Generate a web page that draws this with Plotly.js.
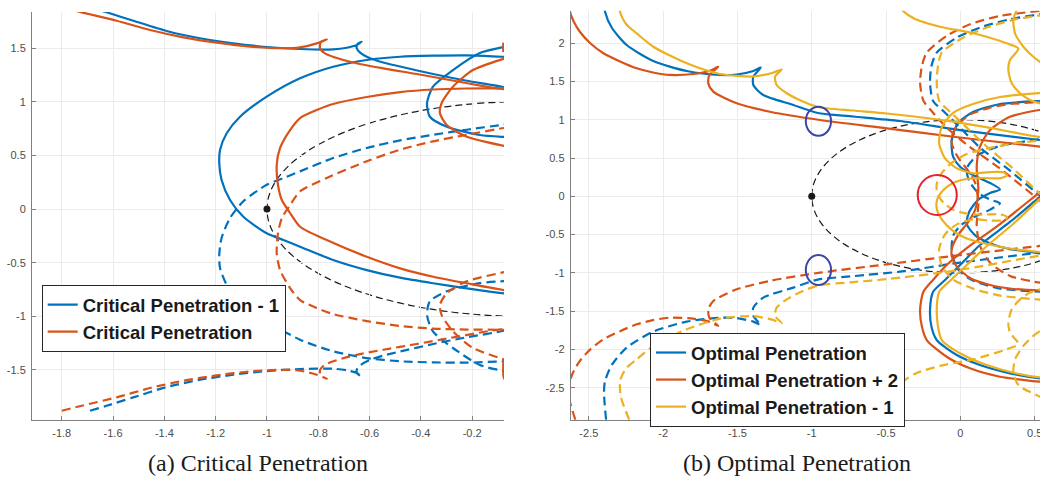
<!DOCTYPE html>
<html>
<head>
<meta charset="utf-8">
<script src="https://cdn.plot.ly/plotly-3.0.1.min.js"></script>
<style>html,body{margin:0;padding:0;background:#fff;}#chart{width:1040px;height:479px;}</style>
</head>
<body>
<div id="chart"></div>
<script>
// ---------- (a) Critical Penetration : positive-frequency branches (solid) ----------
// "Critical Penetration - 1" (blue)
const critM1_B1x = [-1.69,-1.625,-1.521,-1.391,-1.261,-1.131,-1.001,-0.871,-0.742,-0.689,-0.650,-0.631,-0.648,-0.650,-0.637,-0.598,-0.547,-0.481,-0.352,-0.221,-0.076,-0.05];
const critM1_B1y = [1.88,1.833,1.755,1.659,1.591,1.544,1.510,1.491,1.488,1.503,1.528,1.559,1.535,1.498,1.457,1.405,1.366,1.328,1.258,1.195,1.134,1.11];
const critM1_B2x = [-0.05,-0.076,-0.221,-0.352,-0.481,-0.611,-0.742,-0.871,-1.001,-1.105,-1.157,-1.183,-1.186,-1.177,-1.144,-1.092,-1.001,-0.936,-0.871,-0.742,-0.611,-0.481,-0.352,-0.221,-0.076,-0.05];
const critM1_B2y = [1.418,1.419,1.432,1.429,1.419,1.389,1.326,1.218,1.047,0.860,0.706,0.550,0.426,0.270,0.084,-0.072,-0.226,-0.289,-0.351,-0.475,-0.569,-0.640,-0.692,-0.739,-0.786,-0.79];
const critM1_B3x = [-0.05,-0.072,-0.170,-0.275,-0.353,-0.376,-0.365,-0.299,-0.170,-0.072,-0.05];
const critM1_B3y = [1.53,1.513,1.454,1.295,1.140,0.988,0.860,0.767,0.690,0.671,0.668];
// "Critical Penetration" (red)
const crit_R1x = [-1.80,-1.722,-1.586,-1.456,-1.326,-1.196,-1.066,-0.936,-0.871,-0.806,-0.767,-0.791,-0.793,-0.774,-0.676,-0.547,-0.416,-0.287,-0.157,-0.076,-0.05];
const crit_R1y = [1.88,1.833,1.755,1.668,1.600,1.550,1.513,1.498,1.507,1.544,1.582,1.550,1.498,1.451,1.373,1.311,1.258,1.202,1.146,1.116,1.107];
const crit_R2x = [-0.05,-0.072,-0.221,-0.353,-0.481,-0.611,-0.742,-0.806,-0.871,-0.910,-0.949,-0.962,-0.957,-0.942,-0.910,-0.871,-0.767,-0.611,-0.481,-0.352,-0.221,-0.076,-0.05];
const crit_R2y = [1.125,1.125,1.123,1.114,1.090,1.044,0.979,0.923,0.848,0.736,0.569,0.410,0.224,0.084,-0.037,-0.165,-0.289,-0.445,-0.553,-0.631,-0.692,-0.755,-0.76];
const crit_R3x = [-0.05,-0.072,-0.197,-0.275,-0.319,-0.326,-0.299,-0.221,-0.072,-0.05];
const crit_R3y = [1.42,1.404,1.295,1.140,0.988,0.895,0.783,0.674,0.587,0.58];
const crit_R4x = [-0.05,-0.072,-0.078,-0.079,-0.078,-0.072,-0.05];
const crit_R4y = [-1.385,-1.39,-1.42,-1.50,-1.56,-1.59,-1.60];

// ---------- (b) Optimal Penetration ----------
// "Optimal Penetration" (blue)
const opt_B1x = [-2.384,-2.398,-2.391,-2.344,-2.245,-2.066,-1.841,-1.617,-1.505,-1.393,-1.343,-1.393,-1.393,-1.326,-1.124,-0.960,-0.720,-0.406,-0.002,0.536,0.56];
const opt_B1y = [2.915,2.563,2.410,2.197,1.975,1.766,1.636,1.584,1.590,1.636,1.681,1.561,1.453,1.322,1.192,1.087,1.042,0.983,0.865,0.735,0.731];
const opt_B2x = [0.56,0.536,0.267,0.085,-0.015,-0.058,-0.049,-0.002,0.085,0.200,0.267,0.200,0.119,0.059,0.043,0.110,0.267,0.536,0.56];
const opt_B2y = [1.246,1.244,1.205,1.100,0.957,0.735,0.517,0.386,0.278,0.174,0.091,0.043,-0.048,-0.205,-0.362,-0.527,-0.658,-0.744,-0.748];
const opt_B3x = [0.56,0.536,0.334,0.132,-0.002,-0.103,-0.184,-0.204,-0.194,-0.159,-0.024,0.132,0.334,0.536,0.56];
const opt_B3y = [0.02,-0.009,-0.335,-0.636,-0.897,-1.092,-1.249,-1.484,-1.706,-1.876,-2.072,-2.203,-2.311,-2.376,-2.38];
// "Optimal Penetration + 2" (red)
const optP2_R1x = [-2.591,-2.633,-2.630,-2.600,-2.559,-2.492,-2.402,-2.290,-2.178,-2.068,-1.954,-1.797,-1.685,-1.629,-1.689,-1.696,-1.662,-1.505,-1.281,-0.944,-0.495,-0.047,0.536,0.56];
const optP2_R1y = [2.915,2.628,2.432,2.275,2.145,2.001,1.867,1.760,1.671,1.616,1.584,1.597,1.640,1.692,1.584,1.475,1.366,1.214,1.104,0.996,0.888,0.778,0.648,0.644];
const optP2_R2x = [0.56,0.536,0.334,0.200,0.132,0.110,0.121,0.099,0.052,-0.015,-0.056,-0.058,-0.022,0.065,0.200,0.334,0.536,0.56];
const optP2_R2y = [1.125,1.127,1.039,0.866,0.648,0.386,0.082,-0.179,-0.336,-0.506,-0.675,-0.779,-0.923,-1.066,-1.158,-1.204,-1.230,-1.231];
const optP2_R3x = [0.56,0.536,0.267,0.043,-0.092,-0.184,-0.249,-0.271,-0.258,-0.226,-0.092,0.065,0.267,0.536,0.56];
const optP2_R3y = [0.09,0.056,-0.362,-0.675,-0.897,-1.092,-1.249,-1.484,-1.706,-1.876,-2.094,-2.245,-2.355,-2.420,-2.424];
// "Optimal Penetration - 1" (yellow)
const optM1_Y1x = [-2.228,-2.283,-2.290,-2.250,-2.178,-2.066,-1.841,-1.617,-1.393,-1.267,-1.202,-1.247,-1.236,-1.168,-1.082,-0.960,-0.720,-0.495,-0.047,0.536,0.56];
const optM1_Y1y = [2.915,2.628,2.410,2.249,2.128,1.953,1.736,1.597,1.564,1.610,1.655,1.561,1.453,1.345,1.256,1.166,1.120,1.081,0.974,0.774,0.770];
const optM1_Y2x = [0.56,0.536,0.267,0.085,-0.049,-0.125,-0.143,-0.103,-0.024,0.085,0.200,0.294,0.314,0.267,0.153,0.043,-0.049,-0.114,-0.157,-0.157,-0.123,-0.056,0.043,0.178,0.355,0.536,0.56];
const optM1_Y2y = [1.352,1.349,1.296,1.205,1.088,0.905,0.692,0.496,0.366,0.300,0.317,0.311,0.272,0.235,0.239,0.226,0.174,0.082,-0.048,-0.179,-0.309,-0.440,-0.551,-0.623,-0.688,-0.727,-0.73];
const optM1_Y3x = [0.56,0.536,0.355,0.178,0.043,-0.063,-0.143,-0.159,-0.150,-0.125,0.020,0.178,0.357,0.536,0.56];
const optM1_Y3y = [-0.005,-0.035,-0.362,-0.649,-0.897,-1.092,-1.249,-1.484,-1.706,-1.876,-2.072,-2.203,-2.303,-2.363,-2.366];
const optM1_Y4x = [-0.529,-0.451,-0.392,-0.305,-0.137,0.087,0.312,0.390,0.380,0.334,0.323,0.346,0.402,0.469,0.536,0.56];
const optM1_Y4y = [2.920,2.615,2.432,2.315,2.214,2.128,1.997,1.932,1.888,1.779,1.649,1.475,1.345,1.257,1.214,1.205];
const optM1_Y5x = [0.56,0.536,0.402,0.380,0.357,0.368,0.424,0.491,0.536,0.56];
const optM1_Y5y = [2.63,2.615,2.484,2.432,2.302,2.128,1.953,1.822,1.757,1.73];

// critical point and reference circles
const critPointX = [-1];
const critPointY = [0];
const unitCircleX = [-1, 1];
const unitCircleY = [-1, 1];
const markX0 = [-1.040, -1.040, -0.287];
const markX1 = [-0.870, -0.870, -0.024];
const markY0 = [0.791, -1.158, -0.244];
const markY1 = [1.170, -0.766, 0.278];

// tick labels
const aXTicks = [-1.8,-1.6,-1.4,-1.2,-1,-0.8,-0.6,-0.4,-0.2];
const aXText = ['-1.8','-1.6','-1.4','-1.2','-1','-0.8','-0.6','-0.4','-0.2'];
const aYTicks = [-1.5,-1,-0.5,0,0.5,1,1.5];
const aYText = ['-1.5','-1','-0.5','0','0.5','1','1.5'];
const bXTicks = [-2.5,-2,-1.5,-1,-0.5,0,0.5];
const bXText = ['-2.5','-2','-1.5','-1','-0.5','0','0.5'];
const bYTicks = [-2.5,-2,-1.5,-1,-0.5,0,0.5,1,1.5,2];
const bYText = ['-2.5','-2','-1.5','-1','-0.5','0','0.5','1','1.5','2'];

const captions = ['(a) Critical Penetration', '(b) Optimal Penetration'];

// ---------- helpers ----------
function join(...segs){ const out=[]; segs.forEach((s,i)=>{ if(i) out.push(null); out.push(...s); }); return out; }
function neg(a){ return a.map(v => v===null ? null : -v); }

const C_BLUE='#0072BD', C_RED='#D95319', C_YEL='#EDB120';
const LW=2.2, DASH='9px,5px';

function pair(x, y, name, color, xa, ya, leg){
  return [
    {x:x, y:y, type:'scatter', mode:'lines', name:name, xaxis:xa, yaxis:ya, legend:leg,
     line:{color:color, width:LW, shape:'spline', smoothing:0.7}, hoverinfo:'skip'},
    {x:x, y:neg(y), type:'scatter', mode:'lines', name:name, xaxis:xa, yaxis:ya, showlegend:false,
     line:{color:color, width:LW, dash:DASH, shape:'spline', smoothing:0.7}, hoverinfo:'skip'}
  ];
}

const traces = [];
traces.push(...pair(join(critM1_B1x,critM1_B2x,critM1_B3x), join(critM1_B1y,critM1_B2y,critM1_B3y),
  'Critical Penetration - 1', C_BLUE, 'x', 'y', 'legend'));
traces.push(...pair(join(crit_R1x,crit_R2x,crit_R3x,crit_R4x), join(crit_R1y,crit_R2y,crit_R3y,crit_R4y),
  'Critical Penetration', C_RED, 'x', 'y', 'legend'));
traces.push({x:critPointX, y:critPointY, type:'scatter', mode:'markers', xaxis:'x', yaxis:'y', showlegend:false,
  marker:{color:'#1a1a1a', size:7}, hoverinfo:'skip'});

traces.push(...pair(join(opt_B1x,opt_B2x,opt_B3x), join(opt_B1y,opt_B2y,opt_B3y),
  'Optimal Penetration', C_BLUE, 'x2', 'y2', 'legend2'));
traces.push(...pair(join(optP2_R1x,optP2_R2x,optP2_R3x), join(optP2_R1y,optP2_R2y,optP2_R3y),
  'Optimal Penetration + 2', C_RED, 'x2', 'y2', 'legend2'));
traces.push(...pair(join(optM1_Y1x,optM1_Y2x,optM1_Y3x,optM1_Y4x,optM1_Y5x), join(optM1_Y1y,optM1_Y2y,optM1_Y3y,optM1_Y4y,optM1_Y5y),
  'Optimal Penetration - 1', C_YEL, 'x2', 'y2', 'legend2'));
traces.push({x:critPointX, y:critPointY, type:'scatter', mode:'markers', xaxis:'x2', yaxis:'y2', showlegend:false,
  marker:{color:'#1a1a1a', size:7}, hoverinfo:'skip'});

// ---------- shapes ----------
const shapes = [];
[['x','y'],['x2','y2']].forEach(r => shapes.push({type:'circle', xref:r[0], yref:r[1], layer:'below',
  x0:unitCircleX[0], x1:unitCircleX[1], y0:unitCircleY[0], y1:unitCircleY[1],
  line:{color:'#1a1a1a', width:1.2, dash:'7px,4px'}}));
const markColors = ['#3a46a8','#3a46a8','#e8202a'];
markX0.forEach((v,i)=> shapes.push({type:'circle', xref:'x2', yref:'y2', layer:'above',
  x0:markX0[i], x1:markX1[i], y0:markY0[i], y1:markY1[i], line:{color:markColors[i], width:2}}));

// ---------- layout ----------
const W=1040, H=479;
const tickFont = {family:'Liberation Sans, Arial, sans-serif', size:11, color:'#4d4d4d'};
function axis(extra){
  return Object.assign({showgrid:true, gridcolor:'#ebebeb', gridwidth:1, zeroline:false,
    showline:true, linecolor:'#808080', linewidth:1, ticks:'inside', ticklen:4, tickcolor:'#808080',
    tickfont:tickFont, tickmode:'array', fixedrange:true, ticklabelstandoff:3, ticklabeloverflow:'allow'}, extra);
}
const legFont = {family:'Liberation Sans, Arial, sans-serif', size:18.5, color:'#1a1a1a', weight:'bold'};
const layout = {
  width:W, height:H, margin:{l:0,r:0,t:0,b:0}, paper_bgcolor:'#ffffff', plot_bgcolor:'#ffffff',
  showlegend:true,
  xaxis: axis({domain:[32/W, 504/W], range:[-1.916,-0.076], anchor:'y', tickvals:aXTicks, ticktext:aXText}),
  yaxis: axis({domain:[59/H, 467/H], range:[-1.966,1.836], anchor:'x', tickvals:aYTicks, ticktext:aYText}),
  xaxis2: axis({domain:[570.7/W, 1], range:[-2.622,0.536], anchor:'y2', tickvals:bXTicks, ticktext:bXText}),
  yaxis2: axis({domain:[59/H, 468.3/H], range:[-2.920,2.423], anchor:'x2', tickvals:bYTicks, ticktext:bYText}),
  legend: {x:41.7/W, y:1-285/H, xanchor:'left', yanchor:'top', bgcolor:'#ffffff', bordercolor:'#262626',
    borderwidth:1, font:legFont, tracegroupgap:0},
  legend2: {x:650/W, y:1-333/H, xanchor:'left', yanchor:'top', bgcolor:'#ffffff', bordercolor:'#262626',
    borderwidth:1, font:legFont, tracegroupgap:0},
  shapes: shapes,
  annotations: [
    {text:captions[0], xref:'paper', yref:'paper', x:258/W, y:1-463/H, xanchor:'center', yanchor:'middle',
     showarrow:false, font:{family:'Liberation Serif, Times New Roman, serif', size:24, color:'#1a1a1a'}},
    {text:captions[1], xref:'paper', yref:'paper', x:797/W, y:1-463/H, xanchor:'center', yanchor:'middle',
     showarrow:false, font:{family:'Liberation Serif, Times New Roman, serif', size:24, color:'#1a1a1a'}}
  ]
};
Plotly.newPlot('chart', traces, layout, {displayModeBar:false, staticPlot:true});
</script>
</body>
</html>
